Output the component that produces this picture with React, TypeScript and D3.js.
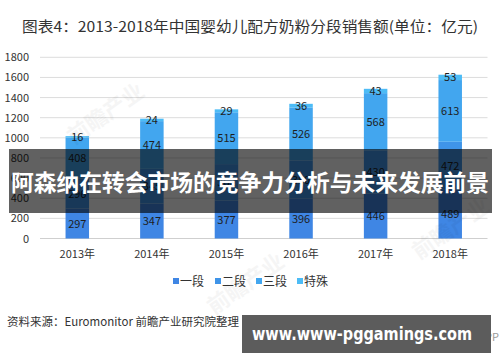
import React, { useEffect, useRef } from 'react';
import * as d3 from 'd3';

const years = ['2013年', '2014年', '2015年', '2016年', '2017年', '2018年'];
const seriesNames = ['一段', '二段', '三段', '特殊'];
const stage1 = [297, 347, 377, 396, 446, 489];
const stage2 = [296, 345, 362, 380, 430, 472];
const stage3 = [408, 474, 515, 526, 568, 613];
const special = [16, 24, 29, 36, 43, 53];
const yTicks = [0, 200, 400, 600, 800, 1000, 1200, 1400, 1600, 1800];
const colors = ['#3f86e4', '#3f94e8', '#42a6ef', '#4dbcf6'];

const W = 500;
const H = 362;

/**
 * Stacked bar chart with the overlay banner and footer.
 */
const App = () => {
  const ref = useRef<SVGSVGElement>(null);

  useEffect(() => {
    const svg = d3.select(ref.current);
    svg.selectAll('*').remove();
    const font = '"Microsoft YaHei", "Noto Sans CJK SC", sans-serif';

    const x = d3.scaleBand().domain(years).range([40, 487.5]).paddingInner(0.685).paddingOuter(0.3425);
    const y = d3.scaleLinear().domain([0, 1800]).range([238.5, 57.3]);

    svg.append('rect').attr('width', W).attr('height', H).attr('fill', '#fff');

    svg.append('text')
      .attr('x', 22).attr('y', 32)
      .attr('textLength', 456).attr('lengthAdjust', 'spacingAndGlyphs')
      .attr('font-family', font).attr('font-size', 14.5)
      .attr('fill', '#333')
      .text('图表4：2013-2018年中国婴幼儿配方奶粉分段销售额(单位：亿元)');

    // grid and y labels
    svg.append('g').selectAll('line').data(yTicks).enter().append('line')
      .attr('x1', 40).attr('x2', 487.5)
      .attr('y1', (d) => y(d)).attr('y2', (d) => y(d))
      .attr('stroke', (d) => (d === 0 ? '#cfcfcf' : '#dcdcdc'))
      .attr('stroke-width', 1);
    svg.append('g').selectAll('text').data(yTicks).enter().append('text')
      .attr('x', 29).attr('y', (d) => y(d) + 4)
      .attr('text-anchor', 'end')
      .attr('font-family', font).attr('font-size', 11)
      .attr('fill', '#333')
      .text((d) => d);

    const rows = years.map((yr, i) => ({
      year: yr, 一段: stage1[i], 二段: stage2[i], 三段: stage3[i], 特殊: special[i],
    }));
    const stacked = d3.stack<any>().keys(seriesNames)(rows);

    stacked.forEach((layer, si) => {
      const g = svg.append('g');
      g.selectAll('rect').data(layer).enter().append('rect')
        .attr('x', (d: any) => x(d.data.year)!)
        .attr('width', x.bandwidth())
        .attr('y', (d: any) => y(d[1]))
        .attr('height', (d: any) => y(d[0]) - y(d[1]))
        .attr('fill', colors[si]);
      g.selectAll('text').data(layer).enter().append('text')
        .attr('x', (d: any) => x(d.data.year)! + x.bandwidth() / 2)
        .attr('y', (d: any) => (y(d[0]) + y(d[1])) / 2 + 4)
        .attr('text-anchor', 'middle')
        .attr('font-family', font).attr('font-size', 11)
        .attr('fill', '#1e1e1e')
        .text((d: any) => d[1] - d[0]);
    });

    // x labels
    svg.append('g').selectAll('text').data(years).enter().append('text')
      .attr('x', (d) => x(d)! + x.bandwidth() / 2)
      .attr('y', 258)
      .attr('text-anchor', 'middle')
      .attr('font-family', font).attr('font-size', 11)
      .attr('fill', '#333')
      .text((d) => d);

    // legend
    const lx = [173, 215, 256, 297];
    const leg = svg.append('g');
    seriesNames.forEach((n, i) => {
      leg.append('rect').attr('x', lx[i]).attr('y', 278).attr('width', 6).attr('height', 6).attr('fill', colors[i]);
      leg.append('text').attr('x', lx[i] + 7).attr('y', 285.5)
        .attr('font-family', font).attr('font-size', 12).attr('fill', '#333').text(n);
    });

    // watermarks
    const wm = [[110, 120], [455, 235], [250, 290]];
    wm.forEach(([wx, wy]) => {
      svg.append('text')
        .attr('transform', `translate(${wx},${wy}) rotate(-35)`)
        .attr('text-anchor', 'middle')
        .attr('font-family', font).attr('font-size', 22).attr('font-weight', 'bold')
        .attr('fill', '#000').attr('opacity', 0.035)
        .text('前瞻产业');
    });

    // source
    svg.append('text')
      .attr('x', 7).attr('y', 326)
      .attr('font-family', font).attr('font-size', 11.5)
      .attr('fill', '#333')
      .text('资料来源：Euromonitor 前瞻产业研究院整理');
    svg.append('text')
      .attr('x', 499).attr('y', 341)
      .attr('text-anchor', 'end')
      .attr('font-family', font).attr('font-size', 11)
      .attr('fill', '#999')
      .text('© 前瞻经济学人APP');

    // overlay banner
    svg.append('rect').attr('x', 9).attr('y', 149).attr('width', 483).attr('height', 64)
      .attr('fill', '#000').attr('opacity', 0.62);
    svg.append('text')
      .attr('x', 11).attr('y', 191)
      .attr('textLength', 478).attr('lengthAdjust', 'spacingAndGlyphs')
      .attr('font-family', font).attr('font-size', 22.5).attr('font-weight', 'bold')
      .attr('fill', '#fff')
      .text('阿森纳在转会市场的竞争力分析与未来发展前景');

    // footer box
    svg.append('rect').attr('x', 242).attr('y', 315).attr('width', 249).attr('height', 38)
      .attr('fill', '#5c5c5c');
    svg.append('text')
      .attr('x', 252).attr('y', 340)
      .attr('textLength', 220).attr('lengthAdjust', 'spacingAndGlyphs')
      .attr('font-family', '"DejaVu Sans", sans-serif').attr('font-size', 18).attr('font-weight', 'bold')
      .attr('fill', '#fff')
      .text('www.www-pggamings.com');
  }, []);

  return (
    <div style={{ position: 'absolute', left: 0, top: 0 }}>
      <svg ref={ref} width={W} height={H} />
    </div>
  );
};

export default App;
